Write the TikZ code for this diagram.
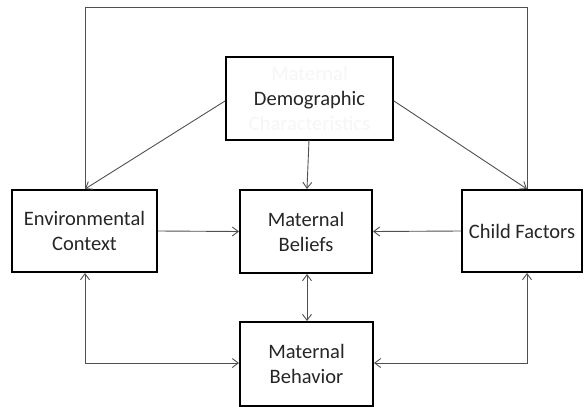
\documentclass[tikz,border=0pt]{standalone}
\usepackage{fontspec}
\setmainfont{Carlito}
\usetikzlibrary{arrows.meta}
\definecolor{linegray}{HTML}{505050}
\definecolor{ghost}{HTML}{F6F6F6}
\begin{document}
\begin{tikzpicture}[x=1pt,y=-1pt,
  box/.style={draw=black, line width=2pt, fill=white, inner sep=0pt,
    align=center, font=\fontsize{20.5}{25}\selectfont, text=black!85},
  link/.style={draw=linegray, line width=0.9pt, -{Straight Barb[length=6pt,width=9pt]}},
  twoway/.style={draw=linegray, line width=0.9pt, {Straight Barb[length=6pt,width=9pt]}-{Straight Barb[length=6pt,width=9pt]}},
  plain/.style={draw=linegray, line width=0.9pt}]
\useasboundingbox (0,0) rectangle (584,407);

% boxes
\node[box, minimum width=167pt, minimum height=83pt] (demo) at (309.5,98.5)
  {\textcolor{ghost}{Maternal}\\Demographic\\\textcolor{ghost}{Characteristics}};
\node[box, minimum width=145pt, minimum height=82pt] (env) at (84.5,231) {Environmental\\Context};
\node[box, minimum width=132pt, minimum height=83pt] (bel) at (306,231.5) {Maternal\\Beliefs};
\node[box, minimum width=120pt, minimum height=82pt] (child) at (522,231) {Child Factors};
\node[box, minimum width=133pt, minimum height=84pt] (beh) at (306.5,364) {Maternal\\Behavior};

% loop over the top
\coordinate (tl) at (85,7);
\coordinate (tr) at (527,7);
\draw[plain] (env.north -| tl) -- (tl) -- (tr) -- (child.north -| tr);

% arrows from the demographic box
\draw[link] (demo.west |- 0,101) -- (env.north -| tl);
\draw[link] (demo.east |- 0,101) -- (child.north -| tr);
\draw[link] (309,140) -- (bel.north -| 307,0);

% into the beliefs box
\draw[link] (env.east) -- (bel.west);
\draw[link] (child.west) -- (bel.east);
\draw[twoway] (bel.south -| 307,0) -- (beh.north -| 307,0);

% into the behavior box
\coordinate (bl) at (85,363);
\coordinate (br) at (527,363);
\draw[twoway] (env.south -| bl) -- (bl) -- (beh.west |- bl);
\draw[twoway] (child.south -| br) -- (br) -- (beh.east |- br);
\end{tikzpicture}
\end{document}
